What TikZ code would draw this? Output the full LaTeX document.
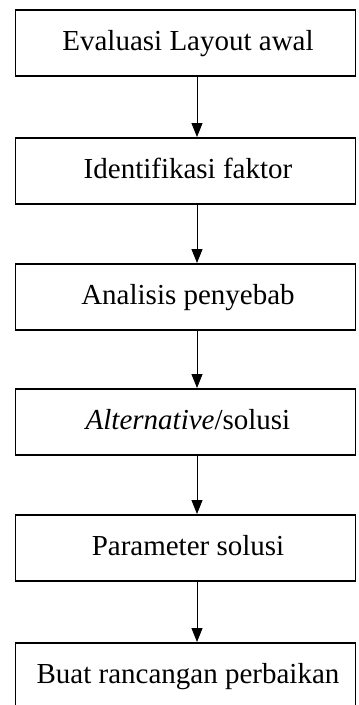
\documentclass[tikz,border=0pt]{standalone}
\usepackage{fontspec}
\setmainfont{Liberation Serif}
\usetikzlibrary{arrows.meta}
\tikzset{
  stepbox/.style={draw=black, line width=1.5pt, rectangle, minimum width=340pt,
    minimum height=66pt, inner sep=0pt, text height=20pt, text depth=5pt,
    font=\fontsize{29pt}{34pt}\selectfont, anchor=north},
  arr/.style={line width=0.8pt, -{Triangle[length=14pt,width=11pt]}}
}
\begin{document}
\begin{tikzpicture}[x=1pt,y=1pt]
\useasboundingbox (0,0) rectangle (359,-705);
\fill[white] (0,0) rectangle (359,-705);
\node[stepbox] (b1) at (185.5,-9) {\hspace*{5pt}Evaluasi Layout awal};
\node[stepbox] (b2) at (185.5,-137) {\hspace*{5pt}Identifikasi faktor};
\node[stepbox] (b3) at (185.5,-263) {\hspace*{5pt}Analisis penyebab};
\node[stepbox] (b4) at (185.5,-388) {\hspace*{5pt}\textit{Alternative}/solusi};
\node[stepbox] (b5) at (185.5,-514) {\hspace*{5pt}Parameter solusi};
\node[stepbox] (b6) at (185.5,-642) {\hspace*{5pt}Buat rancangan perbaikan};
\draw[arr] ([xshift=11.5pt]b1.south) -- ([xshift=11.5pt]b2.north);
\draw[arr] ([xshift=11.5pt]b2.south) -- ([xshift=11.5pt]b3.north);
\draw[arr] ([xshift=11.5pt]b3.south) -- ([xshift=11.5pt]b4.north);
\draw[arr] ([xshift=11.5pt]b4.south) -- ([xshift=11.5pt]b5.north);
\draw[arr] ([xshift=11.5pt]b5.south) -- ([xshift=11.5pt]b6.north);
\end{tikzpicture}
\end{document}
